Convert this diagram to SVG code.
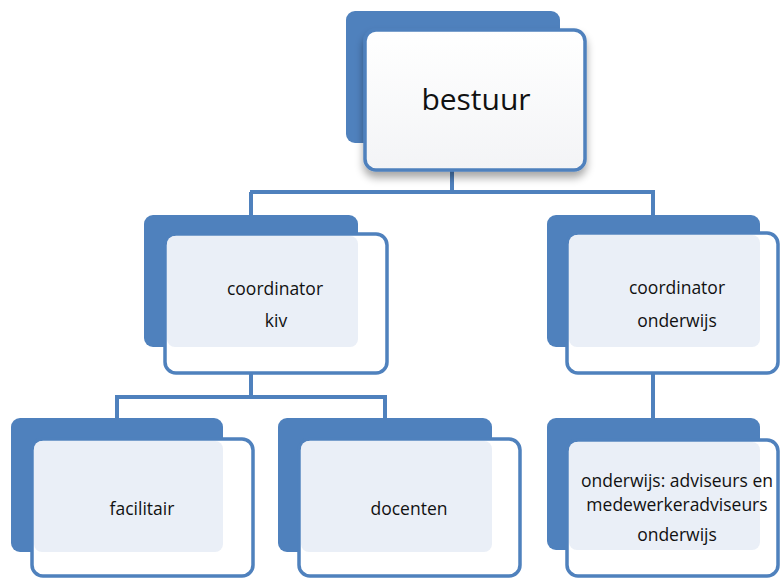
<svg xmlns="http://www.w3.org/2000/svg" width="780" height="578" viewBox="0 0 780 578">
<defs>
<style>
.back{fill:#4f81bd;}
.front{fill:#ffffff;stroke:#4f81bd;stroke-width:3.5;}
.tint{fill:#eaeff7;}
.conn{fill:none;stroke:#4f81bd;stroke-width:4;}
.lbl{font-family:"Open Sans","Noto Sans",sans-serif;font-size:17.5px;fill:#111;text-anchor:middle;}
.big{font-family:"Open Sans","Noto Sans",sans-serif;font-size:30px;fill:#111;text-anchor:middle;}
</style>
<filter id="sh" x="-20%" y="-20%" width="140%" height="150%">
<feGaussianBlur in="SourceAlpha" stdDeviation="4"/>
<feOffset dx="0" dy="6" result="b"/>
<feComponentTransfer><feFuncA type="linear" slope="0.35"/></feComponentTransfer>
<feMerge><feMergeNode/><feMergeNode in="SourceGraphic"/></feMerge>
</filter>
<linearGradient id="topg" x1="0" y1="0" x2="0" y2="1">
<stop offset="0" stop-color="#ffffff"/>
<stop offset="1" stop-color="#f3f4f6"/>
</linearGradient>
</defs>
<rect width="780" height="578" fill="#ffffff"/>
<g id="connectors">
<path class="conn" d="M452 170 V192 M250 192 H655 M251 192 V216 M653 192 V216"/>
<path class="conn" d="M251 373 V397 M115 397 H387 M117 397 V419 M385 397 V419"/>
<path class="conn" d="M653 373 V419"/>
</g>
<g id="node-bestuur">
<rect class="back" x="346" y="11" width="214" height="132" rx="9"/>
<rect x="365" y="30" width="220" height="140" rx="11" fill="url(#topg)" stroke="#4f81bd" stroke-width="3.5" filter="url(#sh)"/>
<text class="big" x="476" y="110">bestuur</text>
</g>
<g id="node-coordinator-kiv">
<rect class="back" x="144" y="215" width="214" height="132" rx="9"/>
<rect class="front" x="165" y="234" width="222" height="139" rx="11"/>
<rect class="tint" x="167" y="236" width="191" height="111" rx="8"/>
<text class="lbl" x="275" y="295">coordinator</text>
<text class="lbl" x="276" y="327">kiv</text>
</g>
<g id="node-coordinator-onderwijs">
<rect class="back" x="547" y="215" width="213" height="132" rx="9"/>
<rect class="front" x="567" y="233" width="211" height="140" rx="11"/>
<rect class="tint" x="569" y="235" width="191" height="112" rx="8"/>
<text class="lbl" x="677" y="294">coordinator</text>
<text class="lbl" x="677" y="327">onderwijs</text>
</g>
<g id="node-facilitair">
<rect class="back" x="11" y="418" width="212" height="134" rx="9"/>
<rect class="front" x="32" y="439" width="221" height="137" rx="11"/>
<rect class="tint" x="34" y="441" width="189" height="111" rx="8"/>
<text class="lbl" x="142" y="515">facilitair</text>
</g>
<g id="node-docenten">
<rect class="back" x="278" y="418" width="214" height="134" rx="9"/>
<rect class="front" x="299" y="439" width="221" height="137" rx="11"/>
<rect class="tint" x="301" y="441" width="191" height="111" rx="8"/>
<text class="lbl" x="409" y="515">docenten</text>
</g>
<g id="node-adviseurs">
<rect class="back" x="547" y="418" width="213" height="132" rx="9"/>
<rect class="front" x="567" y="440" width="211" height="136" rx="11"/>
<rect class="tint" x="569" y="442" width="191" height="108" rx="8"/>
<text class="lbl" x="677" y="487">onderwijs: adviseurs en</text>
<text class="lbl" x="677" y="511">medewerkeradviseurs</text>
<text class="lbl" x="677" y="541">onderwijs</text>
</g>
</svg>
